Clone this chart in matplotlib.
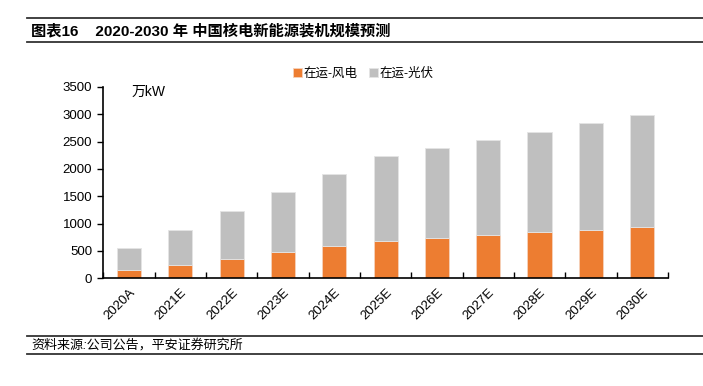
import matplotlib
matplotlib.use('Agg')
import matplotlib.pyplot as plt
import numpy as np

plt.rcParams['font.family'] = ['Liberation Sans', 'Noto Sans CJK SC', 'DejaVu Sans']

years = ['2020A', '2021E', '2022E', '2023E', '2024E', '2025E',
         '2026E', '2027E', '2028E', '2029E', '2030E']
wind = [160, 250, 358, 475, 585, 681, 742, 791, 840, 877, 943]
solar = [388, 632, 877, 1096, 1315, 1548, 1644, 1730, 1833, 1955, 2041]

fig = plt.figure(figsize=(7.03, 3.86), dpi=100)
ax = fig.add_axes([0.147, 0.279, 0.803, 0.496])

x = np.arange(len(years))
ax.bar(x, wind, width=0.47, color='#ED7D31', edgecolor='#f6d2bb', linewidth=0.6,
       label='在运-风电')
ax.bar(x, solar, width=0.47, bottom=wind, color='#BFBFBF', edgecolor='#e4e4e4',
       linewidth=0.6, label='在运-光伏')

ax.set_xlim(-0.5, len(years) - 0.5)
ax.set_ylim(0, 3500)
ax.set_yticks(range(0, 3501, 500))
ax.tick_params(axis='y', labelsize=9.5, length=4, width=1, direction='out', pad=4)
ax.set_xticks(x)
ax.set_xticklabels(years, rotation=45, ha='right', rotation_mode='anchor', fontsize=9.5)
ax.tick_params(axis='x', length=0, pad=6)
# category boundary ticks pointing up
ax.set_xticks(np.arange(-0.5, len(years) + 0.5, 1), minor=True)
ax.tick_params(axis='x', which='minor', length=4, width=1, direction='in')

for s in ['top', 'right']:
    ax.spines[s].set_visible(False)
ax.spines['left'].set_linewidth(1.2)
ax.spines['bottom'].set_linewidth(1.2)

ax.text(0.05, 0.975, '万kW', transform=ax.transAxes, fontsize=10, va='center', ha='left')

leg = ax.legend(loc='center', bbox_to_anchor=(0.46, 1.07), ncol=2, frameon=False,
                fontsize=9, handlelength=0.75, handleheight=0.75, handletextpad=0.1,
                columnspacing=0.9, borderaxespad=0)

# header and footer rules
for yy in [1 - 18.3 / 386, 1 - 42.3 / 386, 1 - 336 / 386, 1 - 354 / 386]:
    fig.add_artist(plt.Line2D([27 / 703, 1.0], [yy, yy], color='#333333', linewidth=1.3,
                              transform=fig.transFigure))

fig.text(31 / 703, 1 - 31.5 / 386, '图表16    2020-2030 年 中国核电新能源装机规模预测',
         fontsize=11, fontweight='bold', va='center', ha='left')
fig.text(31 / 703, 1 - 345.5 / 386, '资料来源:公司公告，平安证券研究所',
         fontsize=9.4, va='center', ha='left', style='italic')

fig.savefig('out.png', dpi=100)
